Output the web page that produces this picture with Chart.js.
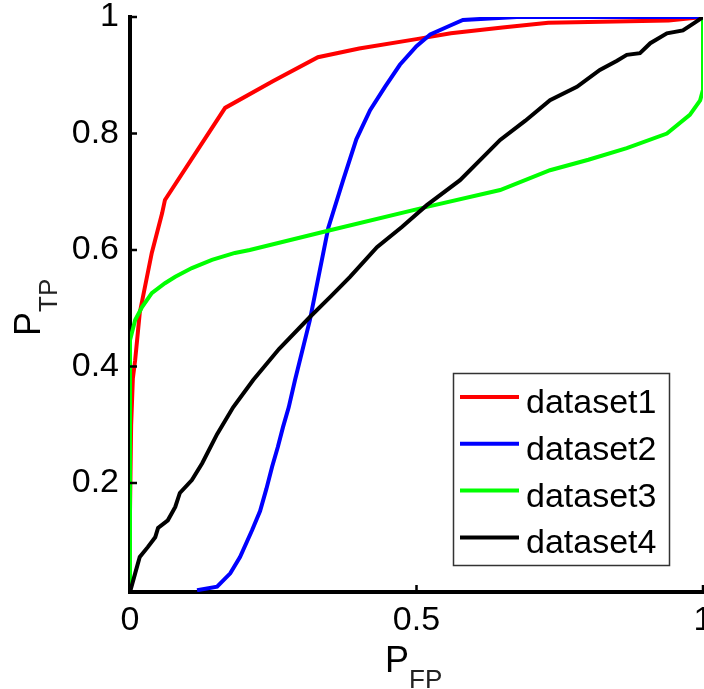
<!DOCTYPE html>
<html>
<head>
<meta charset="utf-8">
<script src="https://cdn.jsdelivr.net/npm/chart.js@4/dist/chart.umd.min.js"></script>
<style>
  html, body { margin: 0; padding: 0; background: #fff; }
  #wrap { width: 704px; height: 689px; position: relative; }
</style>
</head>
<body>
<div id="wrap"><canvas id="c" width="704" height="689"></canvas></div>
<script>
// ---- data ----
const seriesNames = ['dataset1', 'dataset2', 'dataset3', 'dataset4'];
const seriesColors = ['#ff0000', '#0000ff', '#00ff00', '#000000'];

const d1x = [0, 0.002, 0.005, 0.009, 0.017, 0.038, 0.056, 0.061, 0.166, 0.25, 0.328, 0.4, 0.5, 0.56, 0.65, 0.73, 0.94, 1];
const d1y = [0.15, 0.3, 0.38, 0.411, 0.492, 0.595, 0.663, 0.686, 0.844, 0.89, 0.931, 0.946, 0.962, 0.972, 0.982, 0.99, 0.994, 1];

const d2x = [0.117, 0.152, 0.175, 0.192, 0.213, 0.227, 0.238, 0.248, 0.258, 0.267, 0.277, 0.288, 0.314, 0.346, 0.372, 0.395, 0.419, 0.445, 0.471, 0.5, 0.524, 0.558, 0.581, 0.675, 1];
const d2y = [0.016, 0.022, 0.045, 0.073, 0.119, 0.152, 0.19, 0.228, 0.262, 0.296, 0.33, 0.377, 0.48, 0.638, 0.72, 0.79, 0.84, 0.88, 0.918, 0.95, 0.97, 0.985, 0.995, 1, 1];

const d3x = [0, 0, 0.009, 0.021, 0.038, 0.061, 0.079, 0.108, 0.143, 0.183, 0.209, 0.349, 0.518, 0.646, 0.733, 0.8, 0.867, 0.937, 0.977, 0.995, 1, 1];
const d3y = [0.013, 0.445, 0.48, 0.502, 0.526, 0.543, 0.554, 0.569, 0.583, 0.595, 0.6, 0.634, 0.674, 0.703, 0.737, 0.755, 0.775, 0.8, 0.832, 0.857, 0.875, 1];

const d4x = [0, 0.009, 0.017, 0.031, 0.044, 0.049, 0.066, 0.079, 0.087, 0.108, 0.126, 0.152, 0.18, 0.215, 0.26, 0.314, 0.35, 0.384, 0.431, 0.475, 0.518, 0.576, 0.646, 0.69, 0.733, 0.78, 0.82, 0.85, 0.867, 0.89, 0.908, 0.937, 0.965, 0.985, 1];
const d4y = [0.013, 0.045, 0.073, 0.09, 0.107, 0.123, 0.136, 0.159, 0.183, 0.205, 0.234, 0.284, 0.33, 0.377, 0.43, 0.485, 0.52, 0.554, 0.605, 0.64, 0.677, 0.72, 0.789, 0.822, 0.857, 0.88, 0.909, 0.925, 0.935, 0.938, 0.955, 0.972, 0.977, 0.99, 1];

const xTicks = [0, 0.5, 1];
const yTicks = [0.2, 0.4, 0.6, 0.8, 1];
const xRange = [0, 1];
const yRange = [0.013, 1];
const xTitle = ['P', 'FP'];
const yTitle = ['P', 'TP'];

// ---- build ----
const allX = [d1x, d2x, d3x, d4x];
const allY = [d1y, d2y, d3y, d4y];
const FONT = '"Liberation Sans", Arial, Helvetica, sans-serif';

const datasets = seriesNames.map((name, i) => ({
  label: name,
  data: allX[i].map((x, k) => ({ x: x, y: allY[i][k] })),
  borderColor: seriesColors[i],
  backgroundColor: seriesColors[i],
  borderWidth: 4,
  pointRadius: 0,
  tension: 0,
  fill: false,
  clip: 0,
  order: seriesNames.length - i
}));

const overlay = {
  id: 'overlay',
  afterDraw(chart) {
    const ctx = chart.ctx;
    const a = chart.chartArea;
    const xs = chart.scales.x, ys = chart.scales.y;
    ctx.save();
    // inward ticks
    ctx.strokeStyle = '#000';
    ctx.lineWidth = 2.5;
    ctx.beginPath();
    yTicks.forEach(v => {
      const p = ys.getPixelForValue(v);
      ctx.moveTo(a.left, p); ctx.lineTo(a.left + 7, p);
    });
    xTicks.forEach(v => {
      const p = xs.getPixelForValue(v);
      ctx.moveTo(p, a.bottom); ctx.lineTo(p, a.bottom - 7);
    });
    ctx.stroke();

    // x title with subscript
    ctx.fillStyle = '#000';
    ctx.textAlign = 'left';
    ctx.textBaseline = 'alphabetic';
    ctx.font = '36px ' + FONT;
    ctx.fillText(xTitle[0], 385, 672);
    const wP = ctx.measureText(xTitle[0]).width;
    ctx.font = '26px ' + FONT;
    ctx.fillStyle = '#222';
    ctx.fillText(xTitle[1], 385 + wP, 688);

    // y title with subscript
    ctx.save();
    ctx.translate(40, 336);
    ctx.rotate(-Math.PI / 2);
    ctx.fillStyle = '#000';
    ctx.font = '36px ' + FONT;
    ctx.fillText(yTitle[0], 0, 0);
    const wP2 = ctx.measureText(yTitle[0]).width;
    ctx.font = '26px ' + FONT;
    ctx.fillStyle = '#222';
    ctx.fillText(yTitle[1], wP2, 17);
    ctx.restore();

    // legend
    const bx = 453.5, by = 373.5, bw = 216, bh = 192;
    ctx.fillStyle = '#fff';
    ctx.fillRect(bx, by, bw, bh);
    ctx.strokeStyle = '#333';
    ctx.lineWidth = 1.5;
    ctx.strokeRect(bx, by, bw, bh);
    chart.data.datasets.forEach((ds, i) => {
      const ly = 397 + i * 46.8;
      ctx.strokeStyle = ds.borderColor;
      ctx.lineWidth = 4;
      ctx.beginPath();
      ctx.moveTo(460, ly); ctx.lineTo(519, ly);
      ctx.stroke();
      ctx.fillStyle = '#000';
      ctx.font = '34px ' + FONT;
      ctx.textBaseline = 'alphabetic';
      ctx.fillText(ds.label, 526, 413 + i * 46.8);
    });
    ctx.restore();
  }
};

new Chart(document.getElementById('c'), {
  type: 'line',
  data: { datasets: datasets },
  options: {
    responsive: false,
    animation: false,
    layout: { padding: { top: 17, right: 1, left: 0, bottom: 0 } },
    plugins: { legend: { display: false }, tooltip: { enabled: false }, title: { display: false } },
    scales: {
      x: {
        type: 'linear',
        min: xRange[0], max: xRange[1],
        grid: { display: false, drawTicks: false },
        border: { display: true, color: '#000', width: 4 },
        afterBuildTicks: s => { s.ticks = xTicks.map(v => ({ value: v })); },
        afterFit: s => { s.height = 97; s.paddingLeft = 0; s.paddingRight = 0; },
        ticks: {
          color: '#000', padding: 8, maxRotation: 0, autoSkip: false,
          font: { family: FONT, size: 34 },
          callback: v => String(v)
        }
      },
      y: {
        type: 'linear',
        min: yRange[0], max: yRange[1],
        grid: { display: false, drawTicks: false },
        border: { display: true, color: '#000', width: 4 },
        afterBuildTicks: s => { s.ticks = yTicks.map(v => ({ value: v })); },
        afterFit: s => { s.width = 130; s.paddingTop = 0; s.paddingBottom = 0; },
        ticks: {
          color: '#000', padding: 11, autoSkip: false,
          font: { family: FONT, size: 34 },
          callback: v => String(v)
        }
      }
    }
  },
  plugins: [overlay]
});
</script>
</body>
</html>
